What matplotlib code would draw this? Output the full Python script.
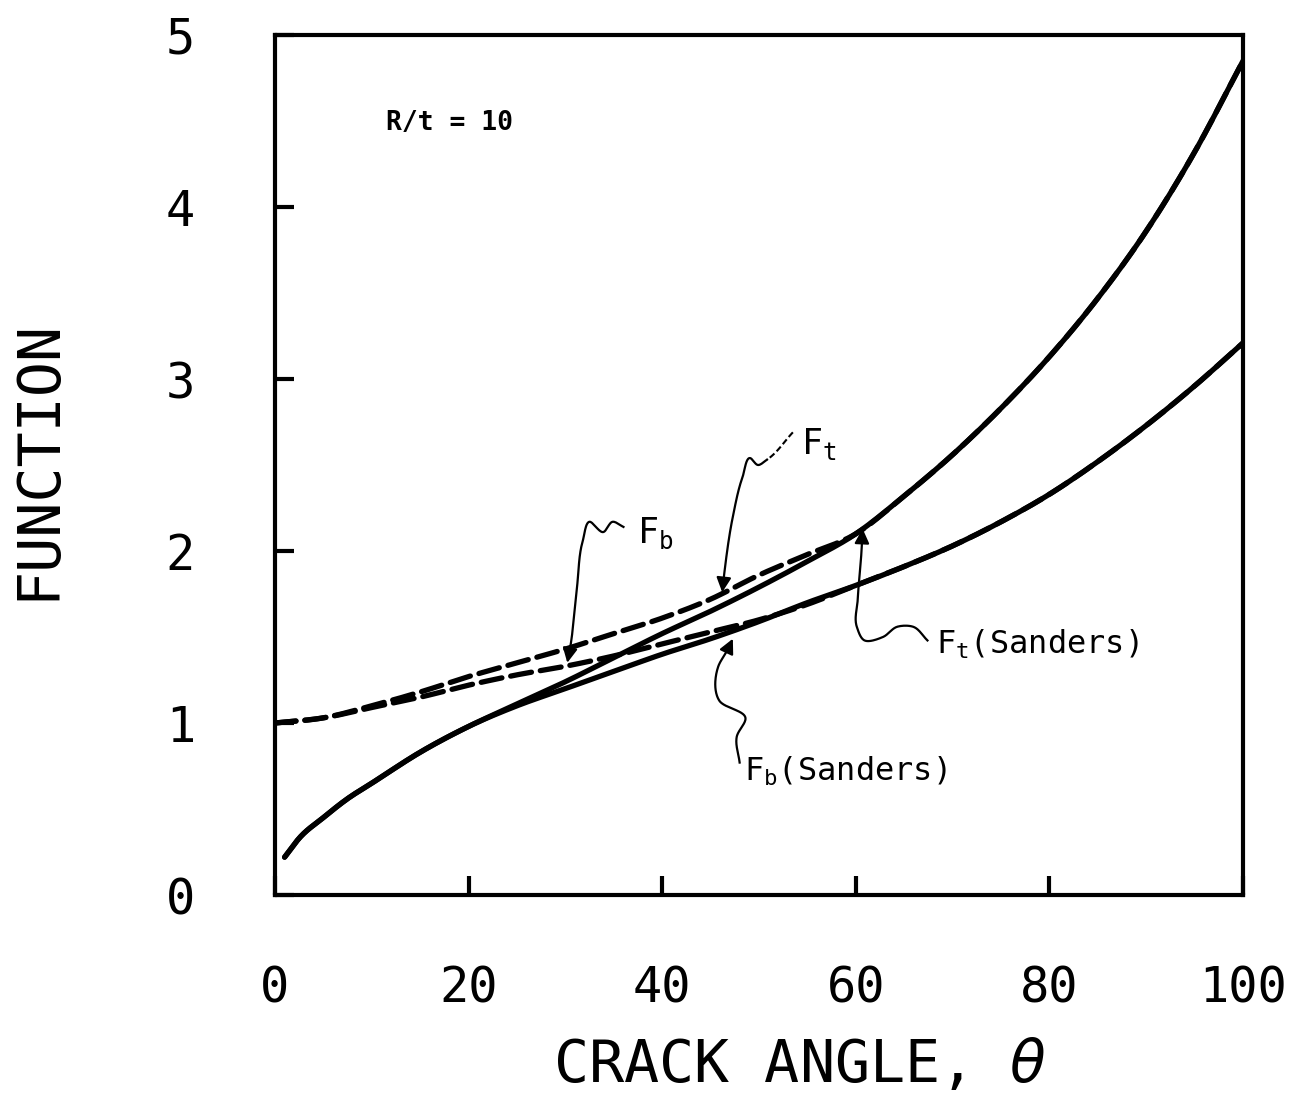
import numpy as np
import matplotlib.pyplot as plt

# crack angle (deg) and the four shell-correction functions, R/t = 10
theta = [0, 5, 10, 15, 20, 25, 30, 35, 40, 45, 50, 55, 60,
         65, 70, 75, 80, 85, 90, 95, 100]
ft = [1.00, 1.03, 1.10, 1.18, 1.27, 1.35, 1.43, 1.52, 1.61, 1.72, 1.86, 1.98, 2.10,
      2.32, 2.56, 2.83, 3.13, 3.47, 3.86, 4.32, 4.85]
fb = [1.00, 1.03, 1.09, 1.15, 1.22, 1.28, 1.33, 1.39, 1.46, 1.53, 1.60, 1.69, 1.80,
      1.91, 2.03, 2.17, 2.33, 2.52, 2.73, 2.96, 3.21]

theta_s = [1, 2.5, 5, 7.5, 10, 15, 20, 25, 30, 35, 40, 45, 50, 55, 60,
           65, 70, 75, 80, 85, 90, 95, 100]
ft_sanders = [0.22, 0.33, 0.45, 0.56, 0.65, 0.83, 0.98, 1.11, 1.24, 1.38, 1.52, 1.65, 1.79, 1.94, 2.10,
              2.32, 2.56, 2.83, 3.13, 3.47, 3.86, 4.32, 4.85]
fb_sanders = [0.22, 0.33, 0.45, 0.56, 0.65, 0.83, 0.98, 1.10, 1.20, 1.30, 1.40, 1.49, 1.59, 1.70, 1.80,
              1.91, 2.03, 2.17, 2.33, 2.52, 2.73, 2.96, 3.21]

xticks = [0, 20, 40, 60, 80, 100]
yticks = [0, 1, 2, 3, 4, 5]

plt.rcParams['font.family'] = 'DejaVu Sans Mono'

fig = plt.figure(figsize=(13.03, 11.04), dpi=100)
ax = fig.add_axes([0.211, 0.1893, 0.743, 0.7790])


def hermite(x, y, n=300):
    # cubic Hermite through the points, tangents from finite differences
    x = np.asarray(x, float)
    y = np.asarray(y, float)
    xs = np.linspace(x[0], x[-1], n)
    m = np.gradient(y, x)
    i = np.clip(np.searchsorted(x, xs) - 1, 0, len(x) - 2)
    h = x[i + 1] - x[i]
    t = (xs - x[i]) / h
    ys = ((2 * t**3 - 3 * t**2 + 1) * y[i] + (t**3 - 2 * t**2 + t) * h * m[i]
          + (-2 * t**3 + 3 * t**2) * y[i + 1] + (t**3 - t**2) * h * m[i + 1])
    return xs, ys


lw = 3.8
for xx, yy in [(theta_s, ft_sanders), (theta_s, fb_sanders)]:
    ax.plot(*hermite(xx, yy), color='black', lw=lw, solid_capstyle='round')
for xx, yy in [(theta, ft), (theta, fb)]:
    ax.plot(*hermite(xx, yy), color='black', lw=lw, dashes=(4, 1.7),
            dash_capstyle='round')

ax.set_xlim(0, 100)
ax.set_ylim(0, 5)
ax.set_xticks(xticks)
ax.set_yticks(yticks)
ax.set_xticklabels([str(v) for v in xticks])
ax.set_yticklabels([str(v) for v in yticks])
ax.tick_params(direction='in', length=14, width=3, labelsize=35)
ax.tick_params(axis='x', pad=50)
ax.tick_params(axis='y', pad=68)
for lab in ax.get_yticklabels():
    lab.set_horizontalalignment('center')
for s in ax.spines.values():
    s.set_linewidth(3)

ax.set_xlabel(r'CRACK ANGLE, $\theta$', fontsize=42)
ax.set_ylabel('FUNCTION', fontsize=42)
ax.xaxis.set_label_coords(0.542, -0.165)
ax.yaxis.set_label_coords(-0.215, 0.506)

ax.text(11.5, 4.49, 'R/t = 10', fontsize=19, fontweight='bold', va='center')


def leader(pts, dashed_upto=0):
    # hand-drawn style pointer: smooth path through pts, arrowhead at the last one
    pts = np.asarray(pts, float)
    s = np.r_[0, np.cumsum(np.hypot(np.diff(pts[:, 0]) / 100, np.diff(pts[:, 1]) / 5))]
    _, px = hermite(s, pts[:, 0], 200)
    _, py = hermite(s, pts[:, 1], 200)
    if dashed_upto:
        k = int(200 * s[dashed_upto] / s[-1])
        ax.plot(px[:k + 1], py[:k + 1], color='black', lw=1.5, dashes=(3, 1.5))
        px, py = px[k:], py[k:]
    ax.plot(px[:-8], py[:-8], color='black', lw=1.6)
    ax.annotate('', xy=(px[-1], py[-1]), xytext=(px[-9], py[-9]),
                arrowprops=dict(arrowstyle='-|>', color='black', lw=1.6,
                                mutation_scale=22, shrinkA=0, shrinkB=0))


lab_kw = dict(va='center', ha='left')

# F_b
ax.text(37.4, 2.10, r'$\mathregular{F_b}$', fontsize=25, **lab_kw)
leader([(36.0, 2.14), (34.9, 2.17), (33.9, 2.11), (32.5, 2.17), (31.8, 2.06),
        (31.2, 1.79), (30.5, 1.44), (30.2, 1.35)])

# F_t
ax.text(54.3, 2.62, r'$\mathregular{F_t}$', fontsize=25, **lab_kw)
leader([(53.5, 2.69), (50.8, 2.53), (49.9, 2.50), (49.1, 2.54), (48.3, 2.43),
        (47.3, 2.20), (46.5, 1.91), (46.2, 1.76)], dashed_upto=1)

# F_t (Sanders)
ax.text(68.3, 1.46, r'$\mathregular{F_t}$(Sanders)', fontsize=23, **lab_kw)
leader([(67.4, 1.48), (65.9, 1.56), (64.3, 1.56), (62.8, 1.50), (60.9, 1.48),
        (60.1, 1.56), (60.2, 1.72), (60.6, 2.01), (60.7, 2.13)])

# F_b (Sanders)
ax.text(48.4, 0.72, r'$\mathregular{F_b}$(Sanders)', fontsize=23, **lab_kw)
leader([(48.0, 0.77), (47.7, 0.92), (48.6, 1.03), (45.9, 1.13), (45.8, 1.33),
        (46.7, 1.42), (47.3, 1.49)])

fig.savefig('out.png', dpi=100, facecolor='white')
